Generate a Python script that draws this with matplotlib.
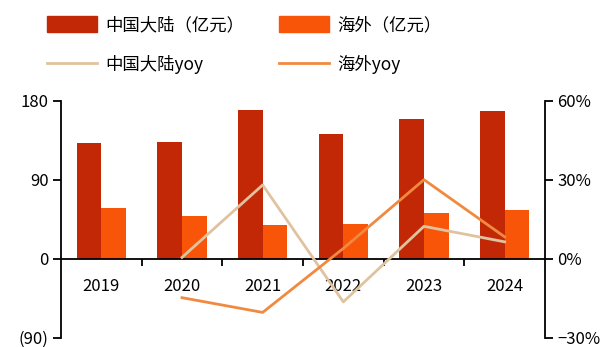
import numpy as np
import matplotlib.pyplot as plt
from matplotlib.patches import Patch
from matplotlib.lines import Line2D
from matplotlib.ticker import FuncFormatter, FixedLocator

plt.rcParams['font.family'] = ['Noto Sans CJK SC', 'DejaVu Sans']

years = ['2019', '2020', '2021', '2022', '2023', '2024']
mainland = [131.6, 132.8, 169.5, 141.9, 158.9, 168.7]      # 亿元
overseas = [57.4, 48.8, 38.6, 40.1, 51.8, 55.6]            # 亿元
mainland_yoy = [np.nan, 0.5, 28.0, -16.4, 12.3, 6.4]       # %
overseas_yoy = [np.nan, -14.8, -20.4, 3.9, 30.0, 8.3]      # %

c_main = '#C22806'
c_over = '#F95508'
c_main_yoy = '#DFC3A0'
c_over_yoy = '#F08A40'

fig = plt.figure(figsize=(6.01, 3.47), dpi=100)
ax = fig.add_axes([0.1015, 0.0268, 0.8053, 0.683])
ax2 = ax.twinx()

x = np.arange(len(years))
w = 0.305
ax.bar(x - w / 2, mainland, width=w, color=c_main)
ax.bar(x + w / 2, overseas, width=w, color=c_over)

ax2.plot(x, mainland_yoy, color=c_main_yoy, lw=2)
ax2.plot(x, overseas_yoy, color=c_over_yoy, lw=2)

ax.set_xlim(-0.5, len(years) - 0.5)
ax.set_ylim(-90, 180)
ax2.set_ylim(-30, 60)

# spines: left / right axes plus a zero baseline
for a in (ax, ax2):
    a.spines['top'].set_visible(False)
    a.spines['bottom'].set_visible(False)
ax.spines['right'].set_visible(False)
ax2.spines['left'].set_visible(False)
ax.spines['bottom'].set_visible(True)
ax.spines['bottom'].set_position(('data', 0))
for s in (ax.spines['left'], ax.spines['bottom'], ax2.spines['right']):
    s.set_linewidth(1.3)

ax.set_yticks([180, 90, 0, -90])
ax.yaxis.set_major_formatter(FuncFormatter(lambda v, p: f'({abs(v):.0f})' if v < 0 else f'{v:.0f}'))
ax2.set_yticks([60, 30, 0, -30])
ax2.yaxis.set_major_formatter(FuncFormatter(lambda v, p: f'{v:.0f}%'.replace('-', '\u2212')))

ax.set_xticks(x)
ax.set_xticklabels(years)
ax.xaxis.set_minor_locator(FixedLocator(x[:-1] + 0.5))
ax.tick_params(axis='x', which='major', length=0, pad=14, labelsize=12)
ax.tick_params(axis='x', which='minor', direction='out', length=5, width=1.3)
ax.tick_params(axis='y', direction='out', length=6, width=1.3, pad=3, labelsize=12)
ax2.tick_params(axis='y', direction='out', length=6, width=1.3, pad=3, labelsize=12)

# legend fills column by column: bars on the top row, yoy lines below
handles = [
    Patch(color=c_main, label='中国大陆（亿元）'),
    Line2D([], [], color=c_main_yoy, lw=2, label='中国大陆yoy'),
    Patch(color=c_over, label='海外（亿元）'),
    Line2D([], [], color=c_over_yoy, lw=2, label='海外yoy'),
]
fig.legend(handles=handles, ncol=2, loc='upper left', bbox_to_anchor=(0.052, 1.0),
           frameon=False, fontsize=12.5, handlelength=2.9, handleheight=1.1,
           handletextpad=0.45, columnspacing=2.0, labelspacing=1.2)

fig.savefig('out.png', dpi=100)
